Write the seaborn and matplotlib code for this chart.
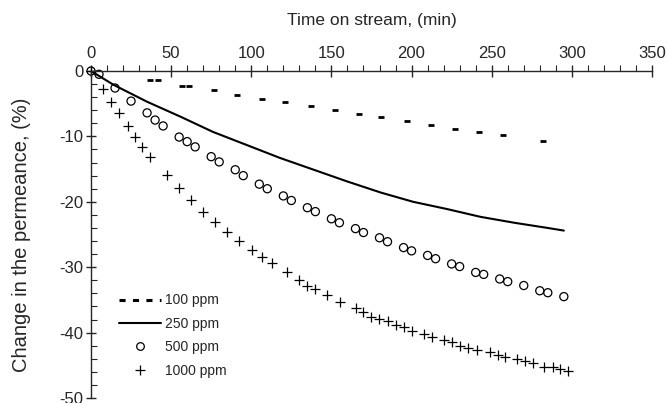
import numpy as np
import pandas as pd
import matplotlib
matplotlib.use("Agg")
import matplotlib.pyplot as plt
from matplotlib.lines import Line2D
import seaborn as sns

# ===============================
# DATA
# ===============================

t_100 = [37, 42, 57, 61, 77, 91, 107, 121, 137, 152, 167, 181, 197, 212, 227, 242, 257, 282]
p_100 = [-1.4, -1.4, -2.3, -2.3, -2.9, -3.6, -4.3, -4.7, -5.3, -6.0, -6.6, -7.1, -7.6,
         -8.2, -8.9, -9.4, -9.8, -10.7]

t_250 = [0, 14, 35, 56, 76, 97, 118, 139, 160, 181, 201, 222, 243, 264, 285, 295]
p_250 = [0, -2.1, -4.7, -7.0, -9.3, -11.3, -13.3, -15.1, -16.9, -18.6, -20.0, -21.1,
         -22.3, -23.2, -24.0, -24.4]

t_500 = [0, 5, 15, 25, 35, 40, 45, 55, 60, 65, 75, 80, 90, 95, 105, 110, 120, 125, 135,
         140, 150, 155, 165, 170, 180, 185, 195, 200, 210, 215, 225, 230, 240, 245, 255,
         260, 270, 280, 285, 295]
p_500 = [0, -0.5, -2.6, -4.6, -6.4, -7.5, -8.4, -10.1, -10.8, -11.6, -13.1, -13.9, -15.1,
         -16.0, -17.3, -18.0, -19.1, -19.8, -20.9, -21.5, -22.6, -23.2, -24.1, -24.7,
         -25.5, -26.1, -27.0, -27.5, -28.2, -28.7, -29.5, -29.9, -30.8, -31.1, -31.8,
         -32.2, -32.8, -33.6, -33.9, -34.5]

t_1000 = [0, 7.5, 12.5, 17.5, 23, 27.5, 32, 37, 47.5, 55, 62.5, 70, 77.5, 85, 92.5, 100.5,
          107, 113, 122.5, 129.5, 135, 140, 147.5, 155.5, 165.5, 170, 175, 179.5, 185, 190,
          195, 200.5, 207.5, 213, 220, 225.5, 230.5, 235.5, 241, 249, 254, 258, 266, 271,
          276, 282.5, 288, 292.5, 297.5]
p_1000 = [0, -2.7, -4.7, -6.4, -8.4, -10.1, -11.6, -13.1, -15.9, -17.9, -19.8, -21.5, -23.1,
          -24.6, -26.0, -27.3, -28.5, -29.3, -30.8, -32.0, -32.8, -33.4, -34.2, -35.3, -36.3,
          -36.9, -37.6, -37.9, -38.3, -38.9, -39.2, -39.7, -40.2, -40.6, -41.2, -41.5, -42.0,
          -42.3, -42.6, -42.9, -43.4, -43.7, -44.1, -44.4, -44.6, -45.2, -45.3, -45.5, -45.8]

LABELS = ["100 ppm", "250 ppm", "500 ppm", "1000 ppm"]

# ===============================
# STYLE
# ===============================

sns.set_style("ticks")
plt.rcParams["font.family"] = ["Liberation Sans", "DejaVu Sans"]
plt.rcParams["axes.unicode_minus"] = False

fig, ax = plt.subplots(figsize=(6.67, 4.03), dpi=100)
fig.subplots_adjust(left=0.1364, right=0.9775, top=0.8238, bottom=0.0124)

# 100 ppm: short dash markers
sns.scatterplot(x=t_100, y=p_100, ax=ax, marker="_", s=14, color="black",
                linewidth=2.0, clip_on=False, legend=False)
# 250 ppm: solid line
sns.lineplot(x=t_250, y=p_250, ax=ax, color="black", linewidth=1.5, legend=False)
# 500 ppm: open circles
sns.scatterplot(x=t_500, y=p_500, ax=ax, marker="o", s=34, facecolor="none",
                edgecolor="black", linewidth=0.9, clip_on=False, legend=False)
# 1000 ppm: plus
sns.scatterplot(x=t_1000, y=p_1000, ax=ax, marker="+", s=55, color="black",
                linewidth=0.9, clip_on=False, legend=False)

ax.set_xlim(0, 350)
ax.set_ylim(-50, 0)
ax.set_xticks(np.arange(0, 351, 50))
ax.set_xticks(np.arange(0, 351, 10), minor=True)
ax.set_yticks(np.arange(-50, 1, 10))
ax.set_yticks(np.arange(-50, 1, 2), minor=True)

ax.xaxis.tick_top()
ax.xaxis.set_label_position("top")
for side in ["bottom", "right"]:
    ax.spines[side].set_visible(False)
ax.spines["top"].set_linewidth(1.0)
ax.spines["left"].set_linewidth(1.0)

ax.tick_params(axis="x", which="major", direction="inout", length=8, width=1.0,
               labelsize=12, pad=3)
ax.tick_params(axis="x", which="minor", direction="out", length=4, width=0.8)
ax.tick_params(axis="y", which="major", direction="inout", length=7, width=1.0,
               labelsize=12, pad=2)
ax.tick_params(axis="y", which="minor", direction="in", length=4, width=0.8)

ax.set_xlabel("Time on stream, (min)", fontsize=12.5, labelpad=15)
ax.set_ylabel("Change in the permeance, (%)", fontsize=14.5, labelpad=20)

handles = [
    Line2D([], [], color="black", linestyle=(0, (2.0, 2.4)), linewidth=2.2),
    Line2D([], [], color="black", linestyle="-", linewidth=1.5),
    Line2D([], [], color="black", linestyle="none", marker="o", markersize=5.5,
           markerfacecolor="none", markeredgewidth=0.9),
    Line2D([], [], color="black", linestyle="none", marker="+", markersize=7.5,
           markeredgewidth=0.9),
]
ax.legend(handles, LABELS, loc="lower left", bbox_to_anchor=(0.04, 0.045),
          frameon=False, fontsize=10, handlelength=3.0, handletextpad=0.3,
          labelspacing=0.68, borderaxespad=0)

plt.savefig("out.png", dpi=100)
